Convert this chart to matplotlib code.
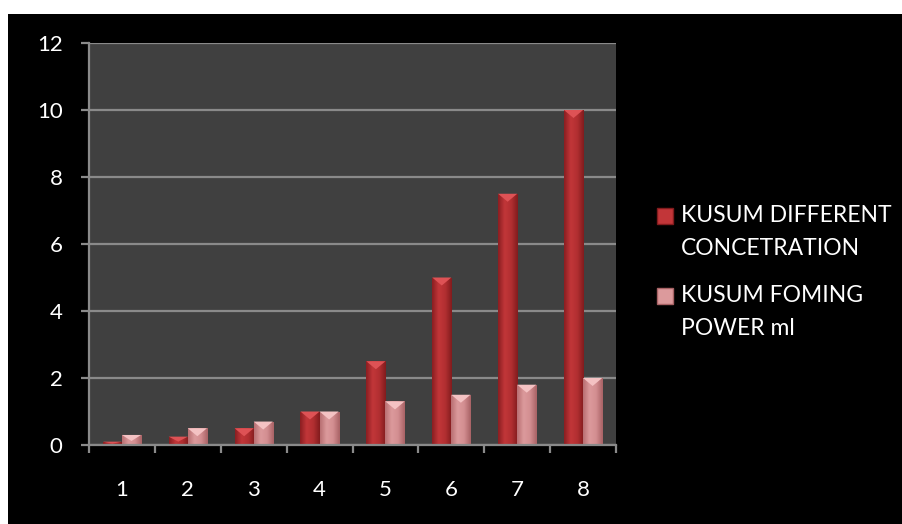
import numpy as np
import matplotlib.pyplot as plt
from matplotlib.colors import LinearSegmentedColormap
from matplotlib.patches import Polygon, Rectangle

plt.rcParams['font.family'] = ['Lato', 'DejaVu Sans']

categories = ['1', '2', '3', '4', '5', '6', '7', '8']
concentration = [0.1, 0.25, 0.5, 1, 2.5, 5, 7.5, 10]
foaming_power = [0.3, 0.5, 0.7, 1.0, 1.3, 1.5, 1.8, 2.0]
series_names = ['KUSUM DIFFERENT\nCONCETRATION', 'KUSUM FOMING\nPOWER ml']

# side-to-side shading, top bevel colour
styles = [
    (['#8a1e21', '#c23639', '#b22f31', '#821b1d'], '#de5255'),
    (['#b86f72', '#dc9a9c', '#d38e91', '#a86265'], '#f4c2c3'),
]

fig = plt.figure(figsize=(9.02, 5.24), dpi=100, facecolor='black')
# white strips along the top and left edges
fig.patches.append(Rectangle((0, 1 - 14 / 524), 1, 14 / 524, transform=fig.transFigure,
                             facecolor='white', edgecolor='none', zorder=0))
fig.patches.append(Rectangle((0, 0), 8 / 902, 1, transform=fig.transFigure,
                             facecolor='white', edgecolor='none', zorder=0))

ax = fig.add_axes([89 / 902, 79 / 524, 527 / 902, 402 / 524])
ax.set_facecolor('#404040')

x = np.arange(len(categories))
w = 0.29
px_per_unit = 402 / 12.0

for i, (vals, (shade, top)) in enumerate(zip([concentration, foaming_power], styles)):
    offs = (i - 0.5) * w
    bars = ax.bar(x + offs, vals, w, color=shade[1], zorder=2)
    cmap = LinearSegmentedColormap.from_list('s%d' % i, shade)
    grad = np.linspace(0, 1, 64).reshape(1, -1)
    for b in bars:
        bx, bw, bh = b.get_x(), b.get_width(), b.get_height()
        im = ax.imshow(grad, cmap=cmap, aspect='auto', extent=[bx, bx + bw, 0, bh],
                       zorder=3, interpolation='bicubic')
        im.set_clip_path(b)
        depth = min(8 / px_per_unit, bh * 0.6)
        ax.add_patch(Polygon([(bx, bh), (bx + bw, bh), (bx + bw / 2, bh - depth)],
                             closed=True, facecolor=top, edgecolor='none', zorder=4))

ax.set_xlim(-0.5, len(categories) - 0.5)
ax.set_ylim(0, 12)
ax.set_yticks(range(0, 13, 2))
ax.set_xticks(np.arange(-0.5, len(categories), 1.0), minor=False)
ax.set_xticklabels([])
ax.set_xticks(x, minor=True)
ax.set_xticklabels(categories, minor=True)

ax.grid(axis='y', color='#8a8a8a', linewidth=1.6, zorder=1)
for s in ['top', 'right']:
    ax.spines[s].set_visible(False)
for s in ['left', 'bottom']:
    ax.spines[s].set_color('#8a8a8a')
    ax.spines[s].set_linewidth(1.6)
    ax.spines[s].set_zorder(5)

ax.tick_params(axis='y', direction='out', length=6, width=1.6, color='#8a8a8a',
               labelcolor='white', labelsize=16, pad=13)
ax.tick_params(axis='x', which='major', direction='out', length=6, width=1.6,
               color='#8a8a8a')
ax.tick_params(axis='x', which='minor', length=0, labelcolor='white', labelsize=16, pad=25)

# legend on the right
leg_y = [216 / 524, 296 / 524]
for (shade, top), name, ly in zip(styles, series_names, leg_y):
    yy = 1 - ly
    fig.patches.append(Rectangle((657 / 902, yy - 8 / 524), 16 / 902, 16 / 524,
                                 transform=fig.transFigure, facecolor=shade[1],
                                 edgecolor=shade[3], linewidth=1))
    fig.text(681 / 902, yy + 11 / 524, name, color='white', fontsize=16.5, va='top',
             ha='left', linespacing=1.7)

fig.savefig('out.png', dpi=100, facecolor=fig.get_facecolor())
